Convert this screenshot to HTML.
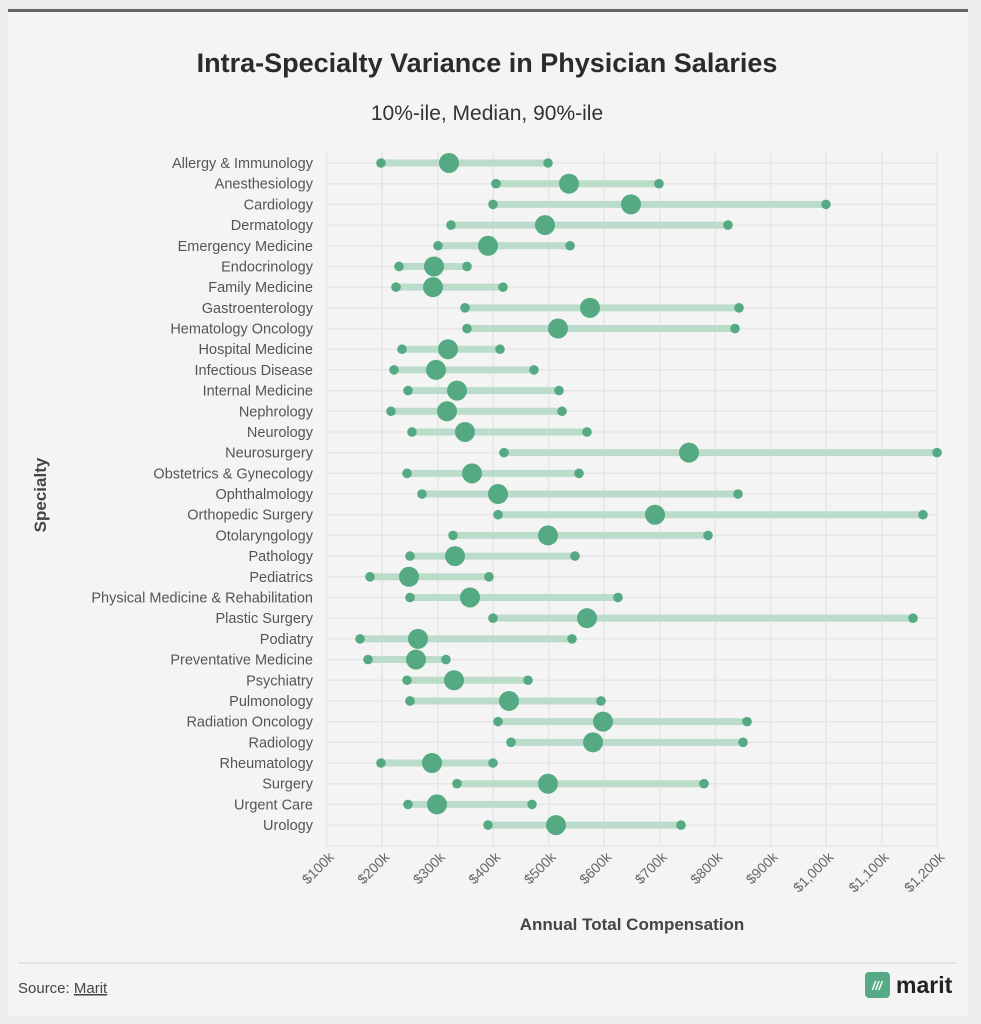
<!DOCTYPE html>
<html><head><meta charset="utf-8"><style>
html,body{margin:0;padding:0;background:#ececec;}
body{width:981px;height:1024px;position:relative;overflow:hidden;font-family:"Liberation Sans",sans-serif;}
#panel{position:absolute;left:8px;top:9px;width:960px;height:1004px;background:#f4f4f4;border-top:3px solid #666;}
</style></head><body>
<div id="panel"></div>
<svg width="981" height="1024" style="position:absolute;left:0;top:0" font-family="Liberation Sans, sans-serif">
<text x="487" y="72" text-anchor="middle" font-size="27" font-weight="bold" fill="#2b2b2b">Intra-Specialty Variance in Physician Salaries</text>
<text x="487" y="120" text-anchor="middle" font-size="21" fill="#333">10%-ile, Median, 90%-ile</text>
<g id="grid" stroke="#e6e6e6" stroke-width="1.5"></g>
<g id="rows"></g>
<g id="ticks" font-size="14" fill="#666"></g>
<text transform="translate(46,495) rotate(-90)" text-anchor="middle" font-size="17" font-weight="bold" fill="#444">Specialty</text>
<text x="632" y="930" text-anchor="middle" font-size="17" font-weight="bold" fill="#444">Annual Total Compensation</text>
<line x1="18" y1="963" x2="957" y2="963" stroke="#ddd" stroke-width="1.5"/>
<text x="18" y="993" font-size="15" fill="#444">Source: <tspan text-decoration="underline">Marit</tspan></text>
<rect x="865" y="972" width="25" height="26" rx="4" fill="#56ab86"/>
<text x="877" y="990" text-anchor="middle" font-size="12" font-style="italic" font-weight="bold" fill="#fff">///</text>
<text x="896" y="993" font-size="23" font-weight="bold" fill="#222">marit</text>
</svg>
<script>
const d=[["Allergy & Immunology",381,449,548],["Anesthesiology",496,569,659],["Cardiology",493,631,826],["Dermatology",451,545,728],["Emergency Medicine",438,488,570],["Endocrinology",399,434,467],["Family Medicine",396,433,503],["Gastroenterology",465,590,739],["Hematology Oncology",467,558,735],["Hospital Medicine",402,448,500],["Infectious Disease",394,436,534],["Internal Medicine",408,457,559],["Nephrology",391,447,562],["Neurology",412,465,587],["Neurosurgery",504,689,937],["Obstetrics & Gynecology",407,472,579],["Ophthalmology",422,498,738],["Orthopedic Surgery",498,655,923],["Otolaryngology",453,548,708],["Pathology",410,455,575],["Pediatrics",370,409,489],["Physical Medicine & Rehabilitation",410,470,618],["Plastic Surgery",493,587,913],["Podiatry",360,418,572],["Preventative Medicine",368,416,446],["Psychiatry",407,454,528],["Pulmonology",410,509,601],["Radiation Oncology",498,603,747],["Radiology",511,593,743],["Rheumatology",381,432,493],["Surgery",457,548,704],["Urgent Care",408,437,532],["Urology",488,556,681]];
const ns="http://www.w3.org/2000/svg";
function el(p,t,a,txt){const e=document.createElementNS(ns,t);for(const k in a)e.setAttribute(k,a[k]);if(txt!==undefined)e.textContent=txt;p.appendChild(e);return e;}
const g=document.getElementById("grid"),r=document.getElementById("rows"),tk=document.getElementById("ticks");
const labs=["$100k","$200k","$300k","$400k","$500k","$600k","$700k","$800k","$900k","$1,000k","$1,100k","$1,200k"];
for(let i=0;i<12;i++){const x=326.7+i*55.5;el(g,"line",{x1:x,y1:152,x2:x,y2:846});
el(tk,"text",{x:0,y:0,"text-anchor":"end",transform:`translate(${x+8},${858}) rotate(-45)`},labs[i]);}
for(let i=0;i<33;i++){const y=163+i*20.69;el(g,"line",{x1:326,y1:y,x2:938,y2:y});}
el(g,"line",{x1:326,y1:846,x2:938,y2:846});
d.forEach((v,i)=>{const y=163+i*20.69;
el(r,"text",{x:313,y:y+5,"text-anchor":"end","font-size":"14.5",fill:"#555"},v[0]);
el(r,"line",{x1:v[1],y1:y,x2:v[3],y2:y,stroke:"#bcdccb","stroke-width":7});
el(r,"circle",{cx:v[1],cy:y,r:4.8,fill:"#55aa83"});
el(r,"circle",{cx:v[3],cy:y,r:4.8,fill:"#55aa83"});
el(r,"circle",{cx:v[2],cy:y,r:10,fill:"#55aa83"});});
</script>
</body></html>
